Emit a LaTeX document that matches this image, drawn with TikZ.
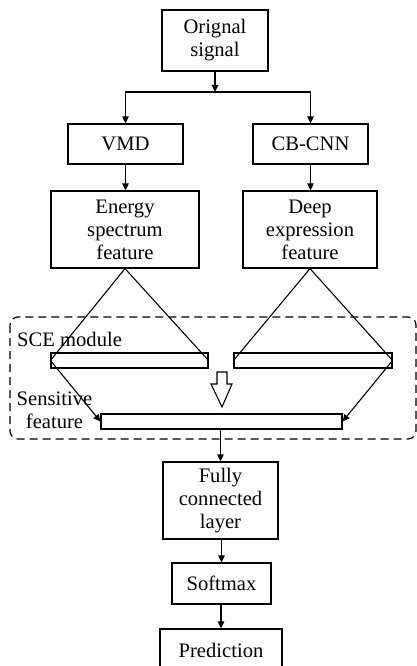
\documentclass[tikz,border=0pt]{standalone}
\usepackage{fontspec}
\setmainfont{Liberation Serif}
\usetikzlibrary{arrows.meta}
\begin{document}
\begin{tikzpicture}[x=1pt,y=-1pt,
  box/.style={draw,line width=1.2pt,align=center,inner sep=0pt,font=\fontsize{20.6}{23}\selectfont},
  bar/.style={draw,line width=1.1pt,inner sep=0pt,minimum height=15pt},
  lbl/.style={align=center,inner sep=0pt,font=\fontsize{20.6}{23}\selectfont},
  arr/.style={line width=1.1pt,-{Triangle[length=7pt,width=6.5pt]}},
  ln/.style={line width=1.1pt}]
\useasboundingbox (0,0) rectangle (417,666);
\node[box,minimum width=106pt,minimum height=61pt] (orig) at (215,40.5) {Orignal\\signal};
\node[box,minimum width=115pt,minimum height=40pt] (vmd) at (125.5,144) {VMD};
\node[box,minimum width=115pt,minimum height=40pt] (cnn) at (310.5,144) {CB-CNN};
\node[box,minimum width=148pt,minimum height=77pt] (energy) at (125,229.5) {Energy\\spectrum\\feature};
\node[box,minimum width=134pt,minimum height=77pt] (deep) at (310,229.5) {Deep\\expression\\feature};
\node[bar,minimum width=157pt] (bar1) at (129.5,360.5) {};
\node[bar,minimum width=158pt] (bar2) at (313,360.5) {};
\node[bar,minimum width=241pt] (sens) at (221.5,421.5) {};
\node[box,minimum width=115pt,minimum height=77pt] (fc) at (220.5,500.5) {Fully\\connected\\layer};
\node[box,minimum width=99pt,minimum height=41pt] (soft) at (221.5,583.5) {Softmax};
\node[box,minimum width=122pt,minimum height=42pt] (pred) at (221,650) {Prediction};
\node[lbl,anchor=west] (sce) at (17,339) {SCE module};
\node[lbl] (sf) at (54.5,410) {Sensitive\\feature};
\draw[dash pattern=on 8pt off 5pt,line width=1.2pt,rounded corners=8pt] (10,317) rectangle (416,439);
\coordinate (j) at (215,92);
\draw[arr] (orig.south) -- (j);
\draw[ln] (125.5,92) -- (310.5,92);
\draw[arr] (j) -| (vmd.north);
\draw[arr] (j) -| (cnn.north);
\draw[arr] (vmd.south) -- (energy.north -| vmd.south);
\draw[arr] (cnn.south) -- (deep.north -| cnn.south);
\draw[ln] (bar1.west) -- (energy.south) -- (bar1.east);
\draw[ln] (bar2.west) -- (deep.south) -- (bar2.east);
\draw[arr] (bar1.west) -- (sens.west);
\draw[arr] (bar2.east) -- (sens.east);
\draw[line width=1.1pt] (217,372) -- (227,372) -- (227,384) -- (232,384) -- (222,407) -- (211,384) -- (217,384) -- cycle;
\draw[arr] (sens.south -| fc.north) -- (fc.north);
\draw[arr] (fc.south -| soft.north) -- (soft.north);
\draw[arr] (soft.south -| pred.north) -- (pred.north);
\end{tikzpicture}
\end{document}
